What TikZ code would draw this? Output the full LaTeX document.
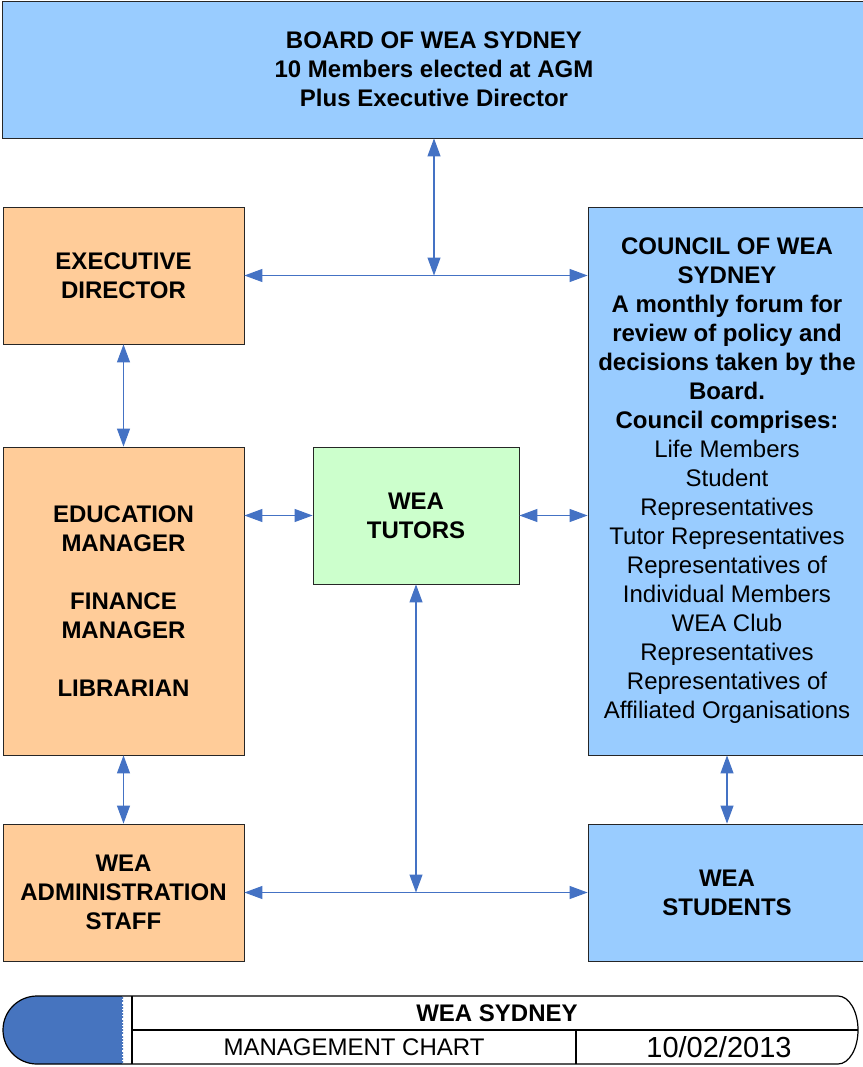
\documentclass[tikz,border=0pt]{standalone}
\usepackage{xcolor}
\usepackage{fontspec}
\setmainfont{Liberation Sans}
\usepackage{tikz}
\usetikzlibrary{arrows.meta,calc,positioning}
\definecolor{boardblue}{HTML}{99CCFF}
\definecolor{staffpeach}{HTML}{FFCC99}
\definecolor{tutorgreen}{HTML}{CCFFCC}
\definecolor{linkblue}{HTML}{4472C4}
\definecolor{capblue}{HTML}{4674BF}
\newcommand{\plainline}{\mdseries}

\begin{document}
\begin{tikzpicture}[
    x=1pt, y=-1pt,
    box/.style={
        draw=black!85, line width=0.8pt, rectangle, align=center, inner sep=0,
        font=\fontsize{24}{29}\selectfont\bfseries},
    bluebox/.style={box, fill=boardblue},
    peachbox/.style={box, fill=staffpeach},
    greenbox/.style={box, fill=tutorgreen},
    link/.style={
        draw=linkblue, line width=1.1pt,
        {Triangle[length=18pt, width=13pt]}-{Triangle[length=18pt, width=13pt]}},
    titletext/.style={inner sep=0, font=\fontsize{24}{29}\selectfont}]
\useasboundingbox (0,0) rectangle (862,1067);

\node (board) [bluebox, minimum width=864pt, minimum height=137pt] at (434,69.5)
    {BOARD OF WEA SYDNEY\\10 Members elected at AGM\\Plus Executive Director};
\node (exec) [peachbox, minimum width=241pt, minimum height=137pt] at (123.5,275.5)
    {EXECUTIVE\\DIRECTOR};
\node (council) [bluebox, minimum width=278pt, minimum height=548pt] at (727,481)
    {COUNCIL OF WEA\\SYDNEY\\A monthly forum for\\review of policy and\\decisions taken by the\\Board.\\Council comprises:\\
    \plainline Life Members\\\plainline Student\\\plainline Representatives\\\plainline Tutor Representatives\\
    \plainline Representatives of\\\plainline Individual Members\\\plainline WEA Club\\\plainline Representatives\\
    \plainline Representatives of\\\plainline Affiliated Organisations};
\node (edu) [peachbox, minimum width=241pt, minimum height=308pt] at (123.5,601)
    {EDUCATION\\MANAGER\\[29pt]FINANCE\\MANAGER\\[29pt]LIBRARIAN};
\node (tutors) [greenbox, minimum width=206pt, minimum height=137pt] at (416,515.5)
    {WEA\\TUTORS};
\node (admin) [peachbox, minimum width=241pt, minimum height=137pt] at (123.5,892.5)
    {WEA\\ADMINISTRATION\\STAFF};
\node (students) [bluebox, minimum width=278pt, minimum height=137pt] at (727,892.5)
    {WEA\\STUDENTS};

\coordinate (boardjoin) at (board.south |- exec.east);
\coordinate (tutorjoin) at (tutors.south |- admin.east);

\path[link] (exec.east) -- (exec.east -| council.west);
\path[link] (board.south) -- (boardjoin);
\path[link] (exec.south) -- (edu.north);
\path[link] (tutors.west) -- (tutors.west -| edu.east);
\path[link] (tutors.east) -- (tutors.east -| council.west);
\path[link] (edu.south) -- (admin.north);
\path[link] (council.south) -- (students.north);
\path[link] (admin.east) -- (admin.east -| students.west);
\path[link] (tutors.south) -- (tutorjoin);

\path[fill=white] (123,996) -- (838,996) arc[start angle=-90, end angle=90, x radius=20, y radius=34]
    -- (123,1064) -- cycle;
\path[fill=capblue] (123,996) -- (37,996) arc[start angle=270, end angle=90, radius=34]
    -- (123,1064) -- cycle;
\path[draw=white, line width=1.2pt, dotted] (123,996) -- (123,1064);
\path[draw, line width=1.2pt] (132,996) -- (132,1064);
\path[draw, line width=1.2pt] (132,1030) -- (858,1030);
\path[draw, line width=1.2pt] (576,1030) -- (576,1064);
\path[draw, line width=1.2pt] (123,996) -- (838,996) arc[start angle=-90, end angle=90, x radius=20, y radius=34]
    -- (37,1064) arc[start angle=90, end angle=270, radius=34] -- cycle;

\node (titlemain) [titletext, font=\fontsize{24}{29}\selectfont\bfseries] at (497,1013) {WEA SYDNEY};
\node (titlesub) [titletext] at (354,1047) {MANAGEMENT CHART};
\node (titledate) [titletext, font=\fontsize{29}{34}\selectfont] at (719,1047) {10/02/2013};

\end{tikzpicture}
\end{document}
